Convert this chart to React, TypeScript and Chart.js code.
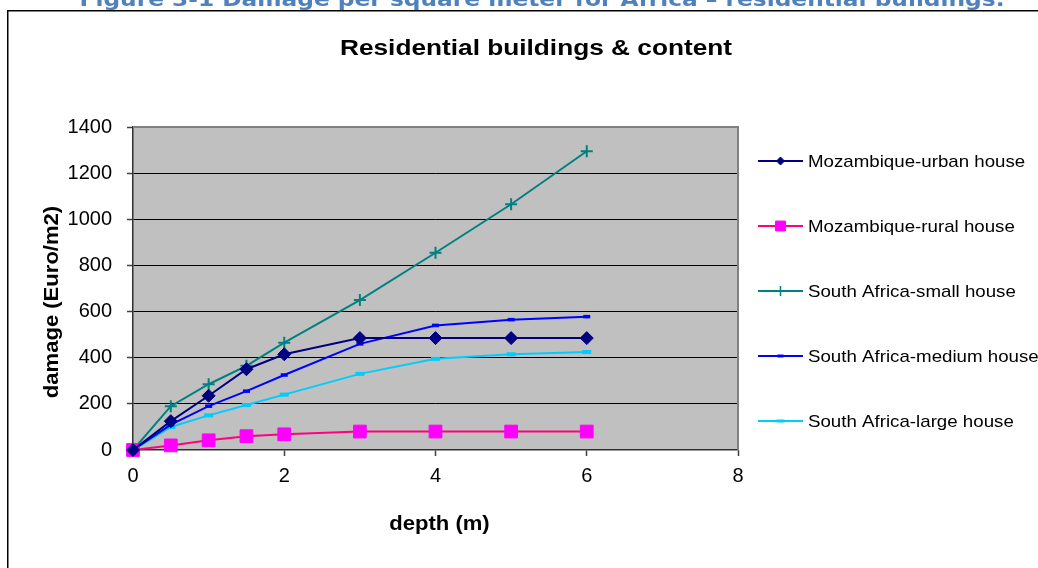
import React, { useEffect, useRef } from 'react';
import { Chart, registerables } from 'chart.js';
import { drawPoint } from 'chart.js/helpers';

Chart.register(...registerables);

// ---- texts ----
const CAPTION = 'Figure 3-1 Damage per square meter for Africa – residential buildings.';
const TITLE = 'Residential buildings & content';
const X_TITLE = 'depth (m)';
const Y_TITLE = 'damage (Euro/m2)';

// ---- data ----
const depths = [0, 0.5, 1, 1.5, 2, 3, 4, 5, 6];
const mozambiqueUrban = [0, 125, 235, 350, 415, 485, 485, 485, 485];
const mozambiqueRural = [0, 20, 42, 60, 68, 80, 80, 80, 80];
const southAfricaSmall = [0, 190, 285, 365, 465, 650, 855, 1065, 1295];
const southAfricaMedium = [0, 110, 190, 255, 325, 460, 540, 565, 578];
const southAfricaLarge = [0, 100, 150, 195, 240, 330, 395, 415, 425];

const seriesNames = [
  'Mozambique-urban house',
  'Mozambique-rural house',
  'South Africa-small house',
  'South Africa-medium house',
  'South Africa-large house',
];
const seriesValues = [mozambiqueUrban, mozambiqueRural, southAfricaSmall, southAfricaMedium, southAfricaLarge];

const xTickValues = [0, 2, 4, 6, 8];
const yTickValues = [0, 200, 400, 600, 800, 1000, 1200, 1400];

// ---- styles ----
const seriesStyles = [
  { line: '#000080', point: '#000080', pointStyle: 'rectRot', radius: 6.5, pbw: 1, legendRadius: 4, legendBw: 1 },
  { line: '#FF0080', point: '#FF00FF', pointStyle: 'rect', radius: 9, pbw: 1, legendRadius: 7, legendBw: 1 },
  { line: '#008080', point: '#008080', pointStyle: 'cross', radius: 6, pbw: 2, legendRadius: 5, legendBw: 1.5 },
  { line: '#0000FF', point: '#0000FF', pointStyle: 'line', radius: 3.5, pbw: 3.5, legendRadius: 3, legendBw: 3 },
  { line: '#00CCFF', point: '#00CCFF', pointStyle: 'line', radius: 4.5, pbw: 4, legendRadius: 4, legendBw: 3 },
];

const SANS = '"Liberation Sans", Arial, sans-serif';

function drawText(
  ctx: CanvasRenderingContext2D,
  text: string,
  x: number,
  y: number,
  font: string,
  color: string,
  align: CanvasTextAlign,
  opts: { width?: number; sx?: number; rotate?: number } = {}
) {
  ctx.save();
  ctx.font = font;
  ctx.fillStyle = color;
  ctx.textAlign = align;
  ctx.textBaseline = 'alphabetic';
  const w = ctx.measureText(text).width;
  let sx = opts.sx ?? 1;
  if (opts.width) sx = opts.width / w;
  ctx.translate(x, y);
  if (opts.rotate) ctx.rotate(opts.rotate);
  ctx.scale(sx, 1);
  ctx.fillText(text, 0, 0);
  ctx.restore();
}

const decorPlugin = {
  id: 'decor',
  beforeDraw(chart: any) {
    const { ctx, chartArea: a } = chart;
    ctx.save();
    ctx.fillStyle = '#ffffff';
    ctx.fillRect(0, 0, chart.width, chart.height);
    // caption (cut off at the top)
    drawText(ctx, CAPTION, 542, 6, 'bold 20px "DejaVu Sans", Verdana, sans-serif', '#4F81BD', 'center', { width: 925 });
    // outer frame
    ctx.strokeStyle = '#000';
    ctx.lineWidth = 1.5;
    ctx.beginPath();
    ctx.moveTo(7.75, chart.height);
    ctx.lineTo(7.75, 10.75);
    ctx.lineTo(chart.width, 10.75);
    ctx.stroke();
    // plot area
    ctx.fillStyle = '#C0C0C0';
    ctx.fillRect(a.left, a.top, a.right - a.left, a.bottom - a.top);
    ctx.restore();
  },
  beforeDatasetsDraw(chart: any) {
    const { ctx, chartArea: a } = chart;
    ctx.save();
    ctx.strokeStyle = '#808080';
    ctx.lineWidth = 2;
    ctx.beginPath();
    ctx.moveTo(a.left, a.top);
    ctx.lineTo(a.right, a.top);
    ctx.lineTo(a.right, a.bottom);
    ctx.stroke();
    ctx.restore();
  },
  afterDraw(chart: any) {
    const { ctx, chartArea: a } = chart;
    // chart title
    drawText(ctx, TITLE, 536, 55, `bold 22px ${SANS}`, '#000', 'center', { width: 392 });
    // axis titles
    drawText(ctx, X_TITLE, (a.left + a.right) / 2 + 4, 530, `bold 21px ${SANS}`, '#000', 'center', { sx: 1.05 });
    drawText(ctx, Y_TITLE, 58, 302, `bold 21px ${SANS}`, '#000', 'center', { rotate: -Math.PI / 2, sx: 1.05 });
    // legend
    const x0 = 758;
    const x1 = 803;
    const tx = 808;
    seriesNames.forEach((name, i) => {
      const st = seriesStyles[i];
      const y = 161 + i * 65;
      ctx.save();
      ctx.strokeStyle = st.line;
      ctx.lineWidth = 2;
      ctx.beginPath();
      ctx.moveTo(x0, y);
      ctx.lineTo(x1, y);
      ctx.stroke();
      ctx.fillStyle = st.point;
      ctx.strokeStyle = st.point;
      ctx.lineWidth = st.legendBw;
      drawPoint(ctx, { pointStyle: st.pointStyle as any, rotation: 0, radius: st.legendRadius, borderWidth: st.legendBw }, (x0 + x1) / 2, y);
      ctx.restore();
      drawText(ctx, name, tx, y + 6, `17px ${SANS}`, '#000', 'left', { sx: 1.1 });
    });
  },
};

export default function App() {
  const canvasRef = useRef<HTMLCanvasElement | null>(null);

  useEffect(() => {
    const canvas = canvasRef.current;
    if (!canvas) return;
    const datasets = seriesNames.map((name, i) => {
      const st = seriesStyles[i];
      return {
        label: name,
        data: depths.map((d, j) => ({ x: d, y: seriesValues[i][j] })),
        borderColor: st.line,
        backgroundColor: st.point,
        borderWidth: 2,
        pointStyle: st.pointStyle as any,
        pointRadius: st.radius,
        pointBackgroundColor: st.point,
        pointBorderColor: st.point,
        pointBorderWidth: st.pbw,
        tension: 0,
        clip: false as any,
      };
    });

    const chart = new Chart(canvas, {
      type: 'line',
      data: { datasets },
      options: {
        animation: false,
        responsive: false,
        devicePixelRatio: 1,
        layout: { padding: { top: 127, right: 300, left: 0, bottom: 0 } },
        plugins: {
          legend: { display: false },
          title: { display: false },
          tooltip: { enabled: false },
        },
        scales: {
          x: {
            type: 'linear',
            min: 0,
            max: 8,
            afterBuildTicks: (s: any) => {
              s.ticks = xTickValues.map((v) => ({ value: v }));
            },
            afterFit: (s: any) => {
              s.height = 118;
            },
            grid: { drawOnChartArea: false, drawTicks: true, tickLength: 6, tickColor: '#404040', tickWidth: 1.5 },
            border: { display: true, color: '#303030', width: 1.5 },
            ticks: {
              font: { family: SANS, size: 20 },
              color: '#000',
              padding: 8,
              maxRotation: 0,
              callback: (v: any) => String(v),
            },
          },
          y: {
            type: 'linear',
            min: 0,
            max: 1400,
            afterBuildTicks: (s: any) => {
              s.ticks = yTickValues.map((v) => ({ value: v }));
            },
            afterFit: (s: any) => {
              s.width = 133;
            },
            grid: {
              color: (c: any) => (c.tick && (c.tick.value === 1400 || c.tick.value === 0) ? 'rgba(0,0,0,0)' : '#000'),
              lineWidth: 1,
              drawTicks: true,
              tickLength: 6,
              tickColor: '#404040',
              tickWidth: 1.5,
            },
            border: { display: true, color: '#303030', width: 1.5 },
            ticks: {
              font: { family: SANS, size: 20 },
              color: '#000',
              padding: 15,
              callback: (v: any) => String(v),
            },
          },
        },
      },
      plugins: [decorPlugin],
    });
    return () => chart.destroy();
  }, []);

  return (
    <div style={{ position: 'fixed', left: 0, top: 0, width: 1038, height: 568, background: '#fff' }}>
      <canvas ref={canvasRef} width={1038} height={568} style={{ display: 'block' }} />
    </div>
  );
}
